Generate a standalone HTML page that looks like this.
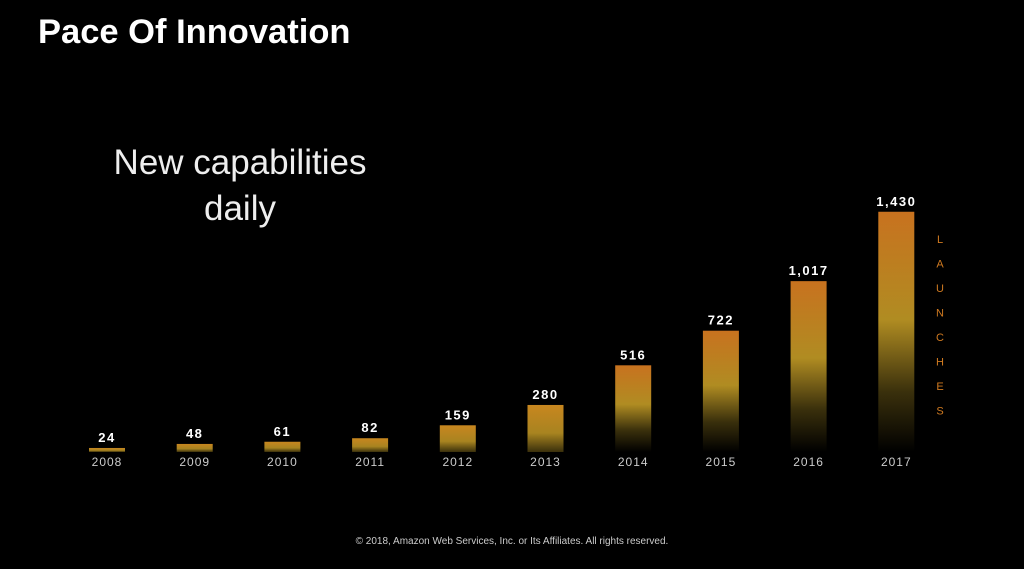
<!DOCTYPE html>
<html><head><meta charset="utf-8"><style>
body{margin:0;background:#000;width:1024px;height:569px;overflow:hidden;font-family:"Liberation Sans",sans-serif}
.t{position:absolute;color:#fff}
</style></head><body>
<div class="t" style="left:38px;top:13px;font-size:34.5px;font-weight:bold">Pace Of Innovation</div>
<div class="t" style="left:70px;top:140px;width:340px;text-align:center;font-size:35px;line-height:46px;color:#eee">New capabilities<br>daily</div>
<div class="t" style="left:0;width:1024px;top:536px;text-align:center;font-size:10px;color:#ccc">© 2018, Amazon Web Services, Inc. or Its Affiliates. All rights reserved.</div>
<svg id="chart" width="1024" height="569" style="position:absolute;left:0;top:0">
<defs><linearGradient id="g" x1="0" y1="0" x2="0" y2="1">
<stop offset="0" stop-color="#c8721f"/><stop offset="0.45" stop-color="#b08c22"/><stop offset="0.75" stop-color="#3a300c"/><stop offset="1" stop-color="#000"/></linearGradient>
<linearGradient id="gs" x1="0" y1="0" x2="0" y2="1">
<stop offset="0" stop-color="#c8861f"/><stop offset="0.6" stop-color="#a88420"/><stop offset="1" stop-color="#3a300c"/></linearGradient></defs>
</svg>
<script>
const years=["2008","2009","2010","2011","2012","2013","2014","2015","2016","2017"];
const launches=[24,48,61,82,159,280,516,722,1017,1430];
const valueLabels=["24","48","61","82","159","280","516","722","1,017","1,430"];
const svg=document.getElementById('chart');
const NS='http://www.w3.org/2000/svg';
const base=452,x0=107,step=87.7,bw=36;
const xs=i=>x0+i*step;
const ys=v=>v*0.168;
years.forEach((yr,i)=>{
 const h=Math.max(2,ys(launches[i])),cx=xs(i);
 const r=document.createElementNS(NS,'rect');
 r.setAttribute('x',cx-bw/2);r.setAttribute('y',base-h);r.setAttribute('width',bw);r.setAttribute('height',h);
 r.setAttribute('fill',h>60?'url(#g)':'url(#gs)');
 
 
 svg.appendChild(r);
 const t=document.createElementNS(NS,'text');
 t.setAttribute('x',cx);t.setAttribute('y',base-h-6);t.setAttribute('text-anchor','middle');
 t.setAttribute('fill','#fff');t.setAttribute('font-size','13');t.setAttribute('font-weight','bold');t.setAttribute('letter-spacing','1.5');
 t.textContent=valueLabels[i];
 
 
 svg.appendChild(t);
 const l=document.createElementNS(NS,'text');
 l.setAttribute('x',cx);l.setAttribute('y',466);l.setAttribute('text-anchor','middle');
 l.setAttribute('fill','#ccc');l.setAttribute('font-size','12');l.setAttribute('letter-spacing','1');
 l.textContent=yr;
 
 
 svg.appendChild(l);
});
"LAUNCHES".split('').forEach((c,i)=>{
 const t=document.createElementNS(NS,'text');
 t.setAttribute('x',940);t.setAttribute('y',243+i*24.5);t.setAttribute('text-anchor','middle');
 t.setAttribute('fill','#d07a20');t.setAttribute('font-size','11');
 t.textContent=c;
 
 
 svg.appendChild(t);
});
</script>
</body></html>
